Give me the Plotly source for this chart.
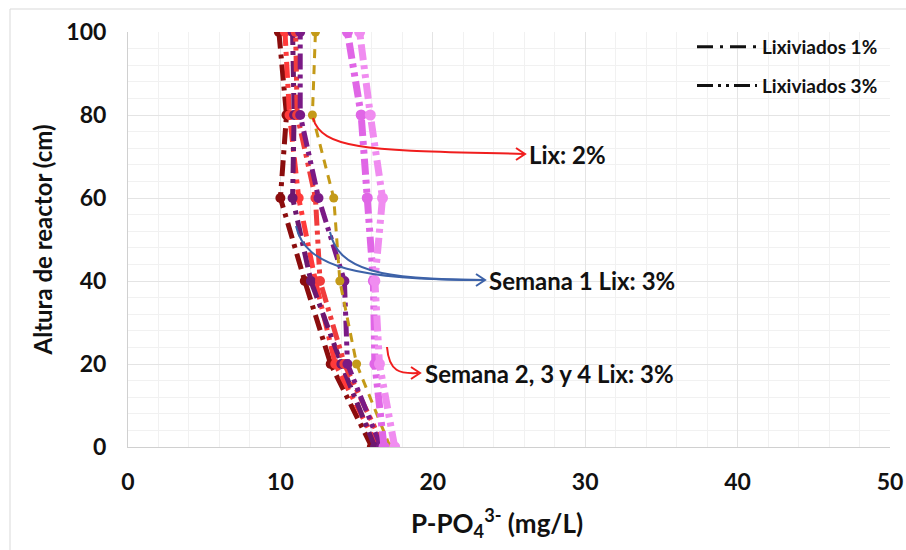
import plotly.graph_objects as go
import math

# ---------------- data ----------------
heights = [0, 20, 40, 60, 80, 100]

s_dark_red = [16.0, 13.3, 11.6, 10.0, 10.4, 9.9]
s_red_1 = [16.4, 13.6, 12.3, 11.2, 10.6, 10.3]
s_purple_1 = [16.2, 14.0, 12.0, 10.8, 10.9, 10.8]
s_red_2 = [16.8, 14.2, 12.6, 12.3, 11.1, 11.0]
s_purple_2 = [16.6, 14.4, 14.2, 12.5, 11.3, 11.3]
s_gold = [17.2, 15.0, 13.9, 13.5, 12.1, 12.3]
s_pink_1 = [16.8, 16.2, 16.1, 15.7, 15.3, 14.4]
s_pink_2 = [17.5, 16.5, 16.2, 16.7, 15.9, 15.2]

legend_labels = ["Lixiviados 1%", "Lixiviados 3%"]
x_ticks = [0, 10, 20, 30, 40, 50]
y_ticks = [0, 20, 40, 60, 80, 100]

# ---------------- layout geometry ----------------
W, H = 906, 550
L, R, T, B = 128, 16, 32, 103
X0, X1 = 0, 50
Y0, Y1 = 0, 100
PW = W - L - R
PH = H - T - B


def dx(px):
    return X0 + (px - L) / PW * (X1 - X0)


def dy(py):
    return Y0 + (H - B - py) / PH * (Y1 - Y0)


FONT = "Lato"
DASH_1 = "16px,6px,4px,6px"
DASH_3 = "16px,5px,4px,5px,4px,5px"

series = [
    (s_dark_red, "#8B0D0D", DASH_1, 5, 10),
    (s_red_1, "#FF3A3A", DASH_1, 5, 10),
    (s_purple_1, "#6C1870", DASH_1, 5, 10),
    (s_red_2, "#F03C3C", DASH_3, 5, 10),
    (s_purple_2, "#7A1A85", DASH_3, 5, 10),
    (s_gold, "#C49A18", "9px,7px", 3, 9),
    (s_pink_1, "#E066E6", DASH_3, 7, 11),
    (s_pink_2, "#F08CF0", DASH_3, 7, 11),
]

fig = go.Figure()
for vals, col, dash, lw, ms in series:
    fig.add_trace(go.Scatter(
        x=vals, y=heights, mode="lines+markers",
        line=dict(color=col, width=lw, dash=dash),
        marker=dict(color=col, size=ms),
        showlegend=False, hoverinfo="skip",
    ))

for i, (lab, dash) in enumerate(zip(legend_labels, ["16px,7px,3px,7px", "16px,5px,3px,5px,3px,5px"])):
    fig.add_trace(go.Scatter(
        x=[None], y=[None], mode="lines", name=f"<b>{lab}</b>",
        line=dict(color="#111111", width=3, dash=dash),
        legendgroup=f"g{i}",
    ))

# ---------------- curved arrows ----------------
def bez(p0, p1, p2, p3):
    d = [(dx(a), dy(b)) for a, b in (p0, p1, p2, p3)]
    return "M {},{} C {},{} {},{} {},{}".format(*[v for pt in d for v in pt])


def head(px, py, ang_dx, ang_dy, size=9, spread=6):
    n = math.hypot(ang_dx, ang_dy)
    ux, uy = ang_dx / n, ang_dy / n
    bx, by = px - ux * size, py - uy * size
    nx, ny = -uy, ux
    a = (bx + nx * spread, by + ny * spread)
    b = (bx - nx * spread, by - ny * spread)
    return "M {},{} L {},{} L {},{}".format(dx(a[0]), dy(a[1]), dx(px), dy(py), dx(b[0]), dy(b[1]))


shapes = []
red = "#F01E1E"
blue = "#3D62A8"
shapes.append(dict(type="path", path=bez((313, 118), (322, 152), (380, 150), (524, 154)),
                   line=dict(color=red, width=2)))
shapes.append(dict(type="path", path=head(525, 154, 1, 0), line=dict(color=red, width=2)))

shapes.append(dict(type="path", path=bez((296, 226), (305, 268), (360, 280), (484, 280)),
                   line=dict(color=blue, width=2)))
shapes.append(dict(type="path", path=bez((330, 232), (338, 270), (380, 280), (484, 280)),
                   line=dict(color=blue, width=2)))
shapes.append(dict(type="path", path=head(485, 280, 1, 0), line=dict(color=blue, width=2)))

shapes.append(dict(type="path", path=bez((387, 347), (389, 372), (400, 374), (418, 373)),
                   line=dict(color=red, width=2)))
shapes.append(dict(type="path", path=head(420, 373, 1, 0), line=dict(color=red, width=2)))

for s in shapes:
    s.update(xref="x", yref="y", layer="above")

# outer chart border (paper-relative)
shapes.append(dict(type="rect", xref="paper", yref="paper",
                   x0=(10 - L) / PW, x1=(W + 5 - L) / PW,
                   y0=-(H + 5 - T - PH) / PH, y1=(H - 9 - B) / PH,
                   line=dict(color="#D9D9D9", width=1), layer="below"))

annotations = [
    dict(x=dx(527), y=dy(154), text="<b>Lix: 2%</b>"),
    dict(x=dx(487), y=dy(280), text="<b>Semana 1 Lix: 3%</b>"),
    dict(x=dx(423), y=dy(373), text="<b>Semana 2, 3 y 4 Lix: 3%</b>"),
]
for a in annotations:
    a.update(xref="x", yref="y", xanchor="left", yanchor="middle", showarrow=False,
             font=dict(family=FONT, size=24, color="#111111"))

# x-axis title (placed as in the reference, slightly left of plot centre)
annotations.append(dict(
    xref="paper", yref="paper",
    x=(497 - L) / PW, y=-(523 - T - PH) / PH,
    xanchor="center", yanchor="middle", showarrow=False,
    text="<b>P-PO<sub>4</sub><sup>3-</sup> (mg/L)</b>",
    font=dict(family=FONT, size=26, color="#111111"),
))

fig.update_layout(
    width=W, height=H,
    margin=dict(l=L, r=R, t=T, b=B, pad=0, autoexpand=False),
    paper_bgcolor="white", plot_bgcolor="white",
    shapes=shapes, annotations=annotations,
    showlegend=True,
    legend=dict(
        x=(883 - L) / PW, y=1.01, xanchor="right", yanchor="top",
        font=dict(family=FONT, size=19, color="#111111"),
        bgcolor="rgba(0,0,0,0)", itemwidth=60,
        tracegroupgap=11, traceorder="grouped",
    ),
    xaxis=dict(
        range=[X0, X1], tickvals=x_ticks, ticktext=[f"<b>{v}</b>" for v in x_ticks],
        tickfont=dict(family=FONT, size=23, color="#111111"),
        showgrid=True, gridcolor="#E4E4E4", gridwidth=1,
        minor=dict(dtick=2, showgrid=True, gridcolor="#F1F1F1", gridwidth=1),
        showline=True, linecolor="#D0D0D0", linewidth=1, zeroline=False,
        ticks="", ticklabelstandoff=14, automargin=False,
    ),
    yaxis=dict(
        range=[Y0, Y1], tickvals=y_ticks, ticktext=[f"<b>{v}</b>" for v in y_ticks],
        tickfont=dict(family=FONT, size=23, color="#111111"),
        showgrid=True, gridcolor="#E4E4E4", gridwidth=1,
        minor=dict(dtick=4, showgrid=True, gridcolor="#F1F1F1", gridwidth=1),
        showline=True, linecolor="#D0D0D0", linewidth=1, zeroline=False,
        ticks="", ticklabelstandoff=16, automargin=False,
        title=dict(text="<b>Altura de reactor (cm)</b>",
                   font=dict(family=FONT, size=24, color="#111111"), standoff=6),
    ),
)

fig.write_html("out.html")
